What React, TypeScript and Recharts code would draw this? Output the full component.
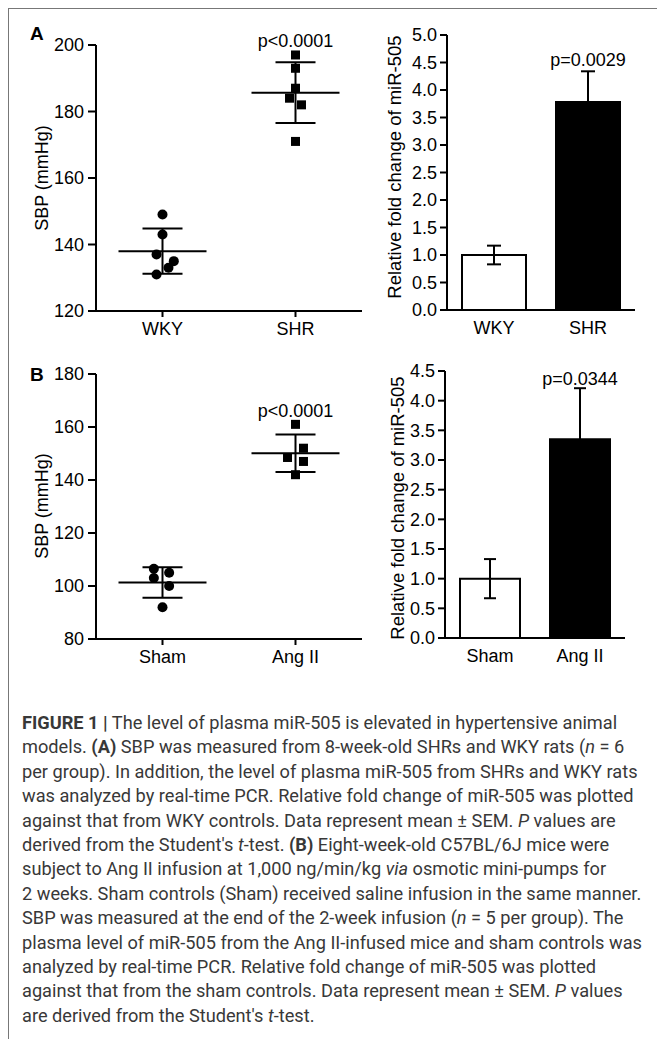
import React from "react";
import {
  ScatterChart,
  Scatter,
  BarChart,
  Bar,
  Cell,
  XAxis,
  YAxis,
  ErrorBar,
  ReferenceDot,
} from "recharts";

const FONT = '"Liberation Sans", Arial, Helvetica, sans-serif';

// Panel A: rats
const ratGroups = ["WKY", "SHR"];
const wkySbp = [149, 143, 137, 135, 133, 131];
const wkyJitter = [0, 0, -0.045, 0.085, 0.045, -0.045];
const shrSbp = [197, 193, 187, 184, 182, 171];
const shrJitter = [0, 0, 0, -0.045, 0.045, 0];
const ratSbpTicks = [120, 140, 160, 180, 200];
const ratFold = [1.0, 3.78];
const ratFoldSem = [0.17, 0.56];
const ratFoldTicks = [0, 0.5, 1, 1.5, 2, 2.5, 3, 3.5, 4, 4.5, 5];

// Panel B: mice
const mouseGroups = ["Sham", "Ang II"];
const shamSbp = [106.5, 105, 103, 100, 92];
const shamJitter = [-0.065, 0.05, -0.065, 0.05, 0];
const angSbp = [161, 152, 148.5, 147, 142];
const angJitter = [0, 0.06, -0.06, 0.06, 0];
const mouseSbpTicks = [80, 100, 120, 140, 160, 180];
const mouseFold = [1.0, 3.35];
const mouseFoldSem = [0.33, 0.86];
const mouseFoldTicks = [0, 0.5, 1, 1.5, 2, 2.5, 3, 3.5, 4, 4.5];

const tickStyle = { fill: "#000", fontSize: 18, fontFamily: FONT };
const axisStroke = { stroke: "#000", strokeWidth: 2 };
const pLabelStyle = { fill: "#000", fontSize: 18, fontFamily: FONT };

const dot = (p: any) => <circle cx={p.cx} cy={p.cy} r={5} fill="#000" />;
const square = (p: any) => (
  <rect x={p.cx - 4.5} y={p.cy - 4.5} width={9} height={9} fill="#000" />
);
const meanLine = (p: any) => (
  <line x1={p.cx - 44} x2={p.cx + 44} y1={p.cy} y2={p.cy} stroke="#000" strokeWidth={2} />
);

function stats(values: number[]) {
  const mean = values.reduce((a, b) => a + b, 0) / values.length;
  const v = values.reduce((a, b) => a + (b - mean) ** 2, 0) / (values.length - 1);
  return { mean, sd: Math.sqrt(v) };
}

type Box = { left: number; top: number; width: number; height: number; mTop: number; mRight: number };

function SbpPanel({
  box,
  groups,
  a,
  aJit,
  b,
  bJit,
  ticks,
  pText,
  pY,
}: {
  box: Box;
  groups: string[];
  a: number[];
  aJit: number[];
  b: number[];
  bJit: number[];
  ticks: number[];
  pText: string;
  pY: number;
}) {
  const ptsA = a.map((v, i) => ({ x: 0.5 + aJit[i], y: v }));
  const ptsB = b.map((v, i) => ({ x: 1.5 + bJit[i], y: v }));
  const sa = stats(a);
  const sb = stats(b);
  const summary = [
    { x: 0.5, y: sa.mean, sd: sa.sd },
    { x: 1.5, y: sb.mean, sd: sb.sd },
  ];
  return (
    <div style={{ position: "absolute", left: box.left, top: box.top }}>
      <ScatterChart
        width={box.width}
        height={box.height}
        margin={{ top: box.mTop, right: box.mRight, bottom: 0, left: 0 }}
      >
        <XAxis
          type="number"
          dataKey="x"
          domain={[0, 2]}
          ticks={[0.5, 1.5]}
          tickFormatter={(v: number) => groups[Math.round(v - 0.5)]}
          tick={tickStyle}
          axisLine={axisStroke}
          tickLine={axisStroke}
          tickSize={6}
          tickMargin={5}
          height={40}
        />
        <YAxis
          type="number"
          dataKey="y"
          domain={[ticks[0], ticks[ticks.length - 1]]}
          ticks={ticks}
          tick={tickStyle}
          axisLine={axisStroke}
          tickLine={axisStroke}
          tickSize={8}
          tickMargin={4}
          width={80}
        />
        <Scatter data={ptsA} shape={dot} isAnimationActive={false} />
        <Scatter data={ptsB} shape={square} isAnimationActive={false} />
        <Scatter data={summary} shape={meanLine} isAnimationActive={false}>
          <ErrorBar dataKey="sd" direction="y" width={20} stroke="#000" strokeWidth={2} />
        </Scatter>
        <ReferenceDot
          x={1.5}
          y={pY}
          r={0}
          ifOverflow="visible"
          label={{ value: pText, position: "center", ...pLabelStyle }}
        />
      </ScatterChart>
    </div>
  );
}

function FoldPanel({
  box,
  groups,
  values,
  sem,
  ticks,
  barSize,
  capWidth,
  pText,
  pY,
}: {
  box: Box;
  groups: string[];
  values: number[];
  sem: number[];
  ticks: number[];
  barSize: number;
  capWidth: number;
  pText: string;
  pY: number;
}) {
  const data = groups.map((g, i) => ({ group: g, fold: values[i], sem: sem[i] }));
  return (
    <div style={{ position: "absolute", left: box.left, top: box.top }}>
      <BarChart
        width={box.width}
        height={box.height}
        data={data}
        margin={{ top: box.mTop, right: box.mRight, bottom: 0, left: 0 }}
      >
        <XAxis
          dataKey="group"
          tick={tickStyle}
          axisLine={axisStroke}
          tickLine={false}
          tickSize={8}
          tickMargin={3}
          height={40}
        />
        <YAxis
          type="number"
          domain={[0, ticks[ticks.length - 1]]}
          ticks={ticks}
          tickFormatter={(v: number) => v.toFixed(1)}
          tick={tickStyle}
          axisLine={axisStroke}
          tickLine={axisStroke}
          tickSize={7}
          tickMargin={3}
          width={80}
        />
        <Bar dataKey="fold" barSize={barSize} stroke="#000" strokeWidth={2} isAnimationActive={false}>
          {data.map((d, i) => (
            <Cell key={d.group} fill={i === 0 ? "#fff" : "#000"} />
          ))}
          <ErrorBar dataKey="sem" width={capWidth} stroke="#000" strokeWidth={2} />
        </Bar>
        <ReferenceDot
          x={groups[1]}
          y={pY}
          r={0}
          ifOverflow="visible"
          label={{ value: pText, position: "center", ...pLabelStyle }}
        />
      </BarChart>
    </div>
  );
}

function VLabel({ text, cx, cy, size }: { text: string; cx: number; cy: number; size: number }) {
  return (
    <div
      style={{
        position: "absolute",
        left: cx - 200,
        top: cy - 11,
        width: 400,
        height: 22,
        lineHeight: "22px",
        textAlign: "center",
        fontSize: size,
        fontFamily: FONT,
        color: "#000",
        transform: "rotate(-90deg)",
        whiteSpace: "nowrap",
      }}
    >
      {text}
    </div>
  );
}

function PanelLetter({ text, left, top }: { text: string; left: number; top: number }) {
  return (
    <div
      style={{
        position: "absolute",
        left,
        top,
        fontSize: 19,
        lineHeight: "20px",
        fontWeight: 700,
        fontFamily: FONT,
        color: "#000",
      }}
    >
      {text}
    </div>
  );
}

const captionLines: React.ReactNode[] = [
  <>
    <b>FIGURE 1 |</b> The level of plasma miR-505 is elevated in hypertensive animal
  </>,
  <>
    models. <b>(A)</b> SBP was measured from 8-week-old SHRs and WKY rats (<i>n</i> = 6
  </>,
  <>per group). In addition, the level of plasma miR-505 from SHRs and WKY rats</>,
  <>was analyzed by real-time PCR. Relative fold change of miR-505 was plotted</>,
  <>
    against that from WKY controls. Data represent mean ± SEM. <i>P</i> values are
  </>,
  <>
    derived from the Student's <i>t</i>-test. <b>(B)</b> Eight-week-old C57BL/6J mice were
  </>,
  <>
    subject to Ang II infusion at 1,000 ng/min/kg <i>via</i> osmotic mini-pumps for
  </>,
  <>2 weeks. Sham controls (Sham) received saline infusion in the same manner.</>,
  <>
    SBP was measured at the end of the 2-week infusion (<i>n</i> = 5 per group). The
  </>,
  <>plasma level of miR-505 from the Ang II-infused mice and sham controls was</>,
  <>analyzed by real-time PCR. Relative fold change of miR-505 was plotted</>,
  <>
    against that from the sham controls. Data represent mean ± SEM. <i>P</i> values
  </>,
  <>
    are derived from the Student's <i>t</i>-test.
  </>,
];

export default function App() {
  return (
    <div
      style={{
        position: "absolute",
        left: 0,
        top: 0,
        width: 657,
        height: 1039,
        background: "#fff",
        overflow: "hidden",
        fontFamily: FONT,
      }}
    >
      <div
        style={{
          position: "absolute",
          left: 8,
          top: 8,
          width: 660,
          height: 1040,
          borderTop: "1px solid #777",
          borderLeft: "1px solid #777",
        }}
      />
      <PanelLetter text="A" left={30} top={24} />
      <PanelLetter text="B" left={30} top={365} />

      <SbpPanel
        box={{ left: 16, top: 20, width: 354, height: 331, mTop: 25, mRight: 8 }}
        groups={ratGroups}
        a={wkySbp}
        aJit={wkyJitter}
        b={shrSbp}
        bJit={shrJitter}
        ticks={ratSbpTicks}
        pText="p<0.0001"
        pY={201.2}
      />
      <VLabel text="SBP (mmHg)" cx={42} cy={178} size={18} />

      <FoldPanel
        box={{ left: 367, top: 20, width: 278, height: 330, mTop: 15, mRight: 10 }}
        groups={ratGroups}
        values={ratFold}
        sem={ratFoldSem}
        ticks={ratFoldTicks}
        barSize={64}
        capWidth={7}
        pText="p=0.0029"
        pY={4.55}
      />
      <VLabel text="Relative fold change of miR-505" cx={395} cy={167} size={18.5} />

      <SbpPanel
        box={{ left: 16, top: 350, width: 354, height: 329, mTop: 24, mRight: 8 }}
        groups={mouseGroups}
        a={shamSbp}
        aJit={shamJitter}
        b={angSbp}
        bJit={angJitter}
        ticks={mouseSbpTicks}
        pText="p<0.0001"
        pY={166}
      />
      <VLabel text="SBP (mmHg)" cx={42} cy={506} size={18} />

      <FoldPanel
        box={{ left: 365, top: 350, width: 270, height: 328, mTop: 21, mRight: 10 }}
        groups={mouseGroups}
        values={mouseFold}
        sem={mouseFoldSem}
        ticks={mouseFoldTicks}
        barSize={60}
        capWidth={6}
        pText="p=0.0344"
        pY={4.38}
      />
      <VLabel text="Relative fold change of miR-505" cx={398} cy={508} size={18.5} />

      <div
        style={{
          position: "absolute",
          left: 22,
          top: 711,
          fontFamily: "Roboto, sans-serif",
          fontSize: 18.2,
          lineHeight: "24.4px",
          color: "#383838",
          whiteSpace: "nowrap",
        }}
      >
        {captionLines.map((l, i) => (
          <div key={i}>{l}</div>
        ))}
      </div>
    </div>
  );
}
